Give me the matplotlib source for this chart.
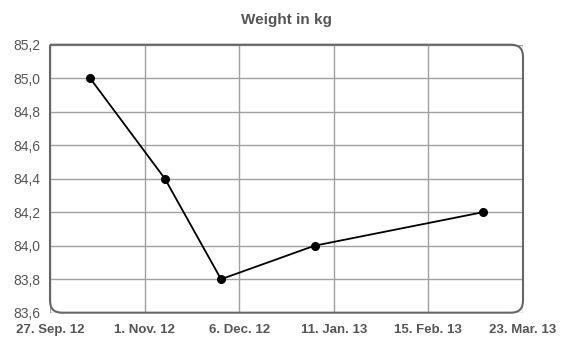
import matplotlib
matplotlib.use("Agg")
import matplotlib.pyplot as plt
import matplotlib.dates as mdates
from matplotlib.path import Path
from matplotlib.patches import PathPatch
import numpy as np
import datetime as dt

# ---- data ----
dates = ["2012-10-12", "2012-11-09", "2012-11-30", "2013-01-04", "2013-03-08"]
weights = [85.0, 84.4, 83.8, 84.0, 84.2]
x_tick_labels = ["27. Sep. 12", "1. Nov. 12", "6. Dec. 12", "11. Jan. 13", "15. Feb. 13", "23. Mar. 13"]
y_ticks = [83.6, 83.8, 84.0, 84.2, 84.4, 84.6, 84.8, 85.0, 85.2]
y_tick_labels = ["83,6", "83,8", "84,0", "84,2", "84,4", "84,6", "84,8", "85,0", "85,2"]
x_start = "2012-09-27"
x_end = "2013-03-23"
title = "Weight in kg"

plt.rcParams['font.family'] = ['Liberation Sans', 'DejaVu Sans']

fig = plt.figure(figsize=(5.7, 3.6), dpi=100)
W, H = 570, 360
left, right, top, bottom = 50, 523, 44.7, 312.7
ax = fig.add_axes([left / W, 1 - bottom / H, (right - left) / W, (bottom - top) / H])

xd = [dt.datetime.fromisoformat(d) for d in dates]
x0 = mdates.date2num(dt.datetime.fromisoformat(x_start))
x1 = mdates.date2num(dt.datetime.fromisoformat(x_end))

ax.set_xlim(x0, x1)
ax.set_ylim(y_ticks[0], y_ticks[-1])

xt = np.linspace(x0, x1, len(x_tick_labels))
ax.set_xticks(xt)
ax.set_xticklabels(x_tick_labels, fontsize=9.5, fontweight='bold', color='#555555')
ax.set_yticks(y_ticks)
ax.set_yticklabels(y_tick_labels, fontsize=10, color='#555555')
ax.tick_params(axis='both', length=0)
ax.tick_params(axis='x', pad=8)
ax.tick_params(axis='y', pad=7)

ax.grid(True, color='#a0a0a0', linewidth=1.0)
ax.set_axisbelow(True)
for s in ax.spines.values():
    s.set_visible(False)

ax.plot(xd, weights, color='black', linewidth=1.3, marker='o', markersize=5.5,
        markerfacecolor='black', markeredgecolor='black', zorder=5)

# rounded border (top-left corner square)
rx = 12 / (right - left)
ry = 12 / (bottom - top)
verts = [
    (0, 1),
    (1 - rx, 1), (1, 1), (1, 1 - ry),
    (1, ry), (1, 0), (1 - rx, 0),
    (rx, 0), (0, 0), (0, ry),
    (0, 1),
]
codes = [Path.MOVETO,
         Path.LINETO, Path.CURVE3, Path.CURVE3,
         Path.LINETO, Path.CURVE3, Path.CURVE3,
         Path.LINETO, Path.CURVE3, Path.CURVE3,
         Path.LINETO]
patch = PathPatch(Path(verts, codes), transform=ax.transAxes, fill=False,
                  edgecolor='#666666', linewidth=1.5, clip_on=False, zorder=6)
ax.add_patch(patch)

fig.text(0.5 * (left + right) / W, 1 - 20 / H, title, ha='center', va='center',
         fontsize=11, fontweight='bold', color='#555555')

fig.savefig("out.png", dpi=100)
